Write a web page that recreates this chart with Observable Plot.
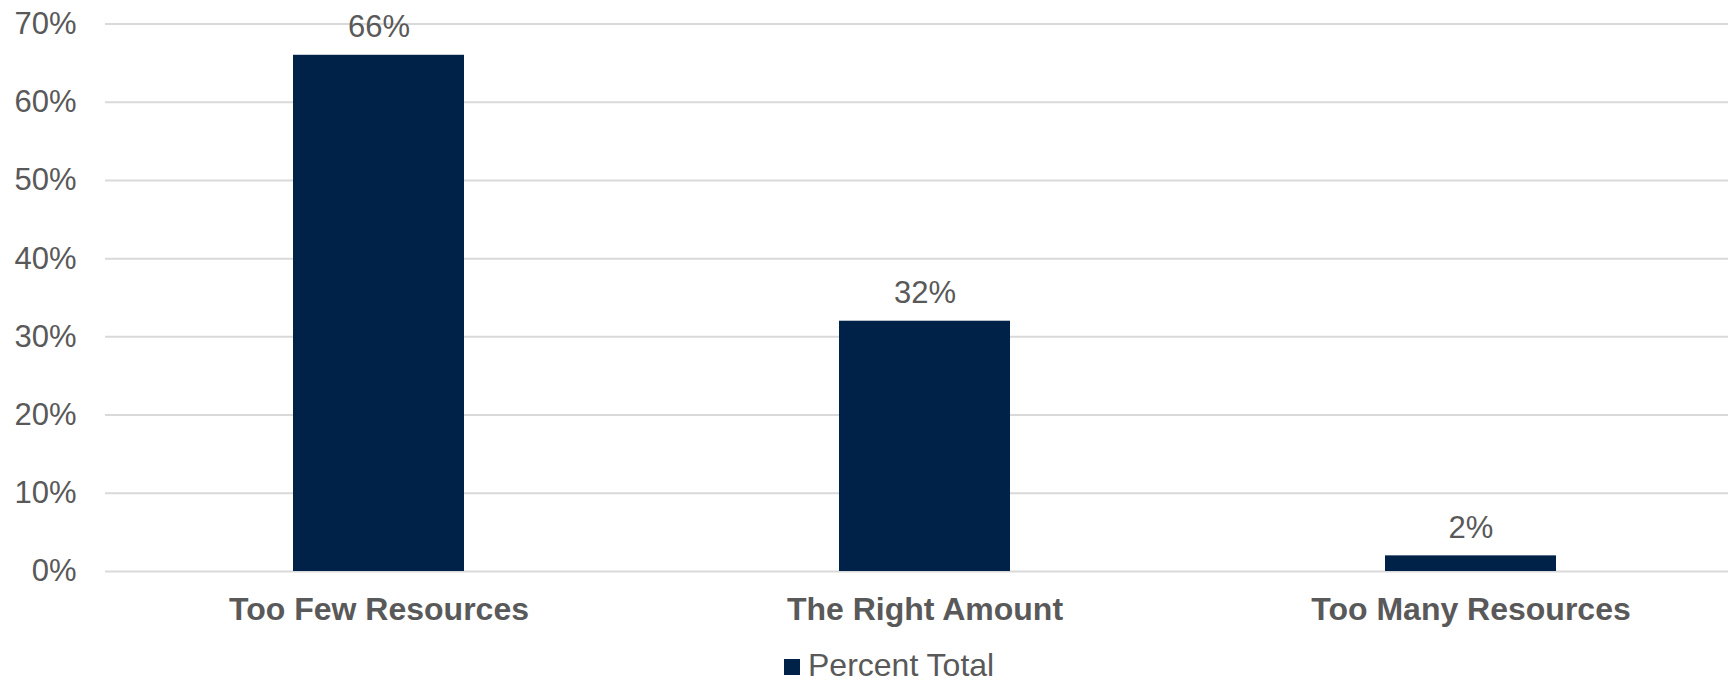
<!DOCTYPE html>
<html>
<head>
<meta charset="utf-8">
<script src="https://cdn.jsdelivr.net/npm/d3@7"></script>
<script src="https://cdn.jsdelivr.net/npm/@observablehq/plot@0.6"></script>
<style>
  html, body { margin: 0; padding: 0; background: #fff; overflow: hidden; }
  #wrap { position: relative; width: 1728px; height: 682px; font-family: "Liberation Sans", Arial, sans-serif; }
  #legend { position: absolute; left: 784px; top: 649px; height: 32px; line-height: 32px; display: flex; align-items: center; color: #595959; font-size: 32px; white-space: nowrap; }
  #legend .sw { width: 16px; height: 16px; background: #002248; margin-right: 8px; margin-top: 4px; }
</style>
</head>
<body>
<div id="wrap"><div id="chart"></div><div id="legend"><span class="sw"></span><span>Percent Total</span></div></div>
<script>
const categories = ["Too Few Resources", "The Right Amount", "Too Many Resources"];
const percentTotal = [66, 32, 2];
const yTicks = [0, 10, 20, 30, 40, 50, 60, 70];
const seriesName = "Percent Total";

const data = categories.map((c, i) => ({category: c, value: percentTotal[i]}));
const textColor = "#595959";
const font = "Liberation Sans, Arial, sans-serif";

const chart = Plot.plot({
  width: 1728,
  height: 640,
  marginLeft: 105,
  marginRight: 0,
  marginTop: 23.5,
  marginBottom: 69,
  style: {fontFamily: font, color: textColor, background: "#fff", overflow: "visible"},
  x: {domain: categories, range: [105, 1743], paddingInner: 0.687, paddingOuter: 0.3435, axis: null},
  y: {domain: [0, 70], range: [571, 23.5], axis: null},
  marks: [
    Plot.ruleY(yTicks, {stroke: "#d9d9d9", strokeWidth: 2}),
    Plot.barY(data, {x: "category", y: "value", fill: "#002248"}),
    Plot.text(yTicks, {x: null, y: d => d, frameAnchor: "left", dx: -29, textAnchor: "end", text: d => d + "%", fontSize: 31, fill: textColor}),
    Plot.text(data, {x: "category", y: "value", text: d => d.value + "%", lineAnchor: "bottom", dy: -18, fontSize: 31, fill: textColor}),
    Plot.text(data, {x: "category", y: 0, text: "category", lineAnchor: "bottom", dy: 48, fontSize: 32, fontWeight: "bold", fill: textColor})
  ]
});
document.getElementById("chart").appendChild(chart);
</script>
</body>
</html>
